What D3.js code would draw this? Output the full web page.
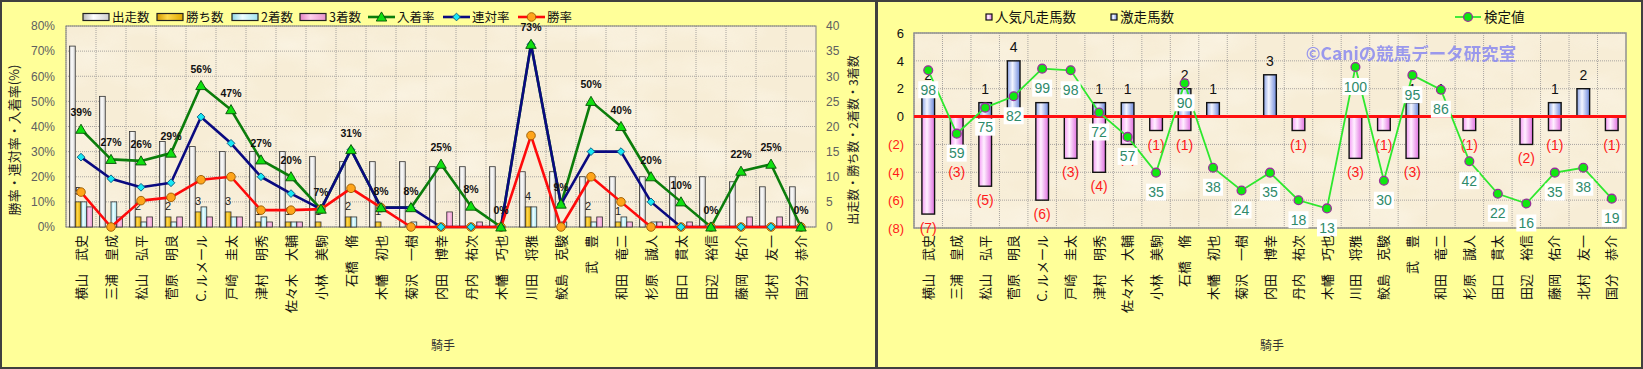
<!DOCTYPE html>
<html>
<head>
<meta charset="utf-8">
<script src="https://cdn.jsdelivr.net/npm/d3@7"></script>
<style>
  body { margin: 0; background: #fff; }
  svg text { font-family: "Noto Sans CJK JP", "Liberation Sans", sans-serif; }
  .num { font-family: "Liberation Sans", Arial, sans-serif; }
</style>
</head>
<body>
<svg id="chart" width="1643" height="369"></svg>
<script>
// jockeys (same order in both panels)
const jockeys = ["横山　武史", "三浦　皇成", "松山　弘平", "菅原　明良", "C. ルメール", "戸崎　圭太",
  "津村　明秀", "佐々木　大輔", "小林　美駒", "石橋　脩", "木幡　初也", "菊沢　一樹", "内田　博幸",
  "丹内　祐次", "木幡　巧也", "川田　将雅", "鮫島　克駿", "武　豊", "和田　竜二", "杉原　誠人",
  "田口　貫太", "田辺　裕信", "藤岡　佑介", "北村　友一", "国分　恭介"];

// left panel: counts
const starts  = [36, 26, 19, 17, 16, 15, 15, 15, 14, 13, 13, 13, 12, 12, 12, 11, 11, 10, 10, 10, 10, 10, 9, 8, 8];
const wins    = [5, 0, 2, 2, 3, 3, 1, 1, 1, 2, 1, 0, 0, 0, 0, 4, 0, 2, 1, 0, 0, 0, 0, 0, 0];
const seconds = [5, 5, 1, 1, 4, 2, 2, 1, 0, 2, 0, 1, 0, 0, 0, 4, 1, 1, 2, 1, 0, 0, 0, 0, 0];
const thirds  = [4, 2, 2, 2, 2, 2, 1, 1, 0, 0, 0, 0, 3, 1, 0, 0, 0, 2, 1, 1, 1, 0, 2, 2, 0];

// left panel: rates (%)
const placeRate   = [38.9, 26.9, 26.3, 29.4, 56.3, 46.7, 26.7, 20.0, 7.1, 30.8, 7.7, 7.7, 25.0, 8.3, 0, 72.7, 9.1, 50.0, 40.0, 20.0, 10.0, 0, 22.2, 25.0, 0];
const rentaiRate  = [27.8, 19.2, 15.8, 17.6, 43.8, 33.3, 20.0, 13.3, 7.1, 30.8, 7.7, 7.7, 0, 0, 0, 72.7, 9.1, 30.0, 30.0, 10.0, 0, 0, 0, 0, 0];
const winRate     = [13.9, 0, 10.5, 11.8, 18.8, 20.0, 6.7, 6.7, 7.1, 15.4, 7.7, 0, 0, 0, 0, 36.4, 0, 20.0, 10.0, 0, 0, 0, 0, 0, 0];

// right panel
const flopCount  = [7, 3, 5, 0, 6, 3, 4, 2, 1, 1, 0, 0, 0, 1, 0, 3, 1, 3, 0, 1, 0, 2, 1, 0, 1];
const surgeCount = [2, 0, 1, 4, 1, 0, 1, 1, 0, 2, 1, 0, 3, 0, 0, 0, 0, 1, 1, 0, 0, 0, 1, 2, 0];
const scores     = [98, 59, 75, 82, 99, 98, 72, 57, 35, 90, 38, 24, 35, 18, 13, 100, 30, 95, 86, 42, 22, 16, 35, 38, 19];

const pctTicks = [0, 10, 20, 30, 40, 50, 60, 70, 80];
const cntTicks = [0, 5, 10, 15, 20, 25, 30, 35, 40];
const diffTicks = [-8, -6, -4, -2, 0, 2, 4, 6];

const svg = d3.select("#chart");
const defs = svg.append("defs");

// paper texture of the plot areas
const tex = defs.append("filter").attr("id", "paper")
    .attr("x", 0).attr("y", 0).attr("width", "100%").attr("height", "100%");
tex.append("feTurbulence").attr("type", "fractalNoise")
    .attr("baseFrequency", "0.012 0.025").attr("numOctaves", 3).attr("seed", 7);
tex.append("feColorMatrix").attr("type", "matrix")
    .attr("values", "0 0 0 0 1  0 0 0 0 0.98  0 0 0 0 0.92  1.4 0 0 0 -0.55");

function grad(id, a, b, c) {
    let g = defs.append("linearGradient").attr("id", id)
        .attr("x1", 0).attr("x2", 1).attr("y1", 0).attr("y2", 0);
    g.append("stop").attr("offset", "0%").attr("stop-color", a);
    g.append("stop").attr("offset", "40%").attr("stop-color", b);
    g.append("stop").attr("offset", "100%").attr("stop-color", c);
}
grad("gStarts", "#b8b8b8", "#ffffff", "#d0d0d0");
grad("gWins", "#d49a00", "#ffd84a", "#e0a800");
grad("gSec", "#8fd8e8", "#effeff", "#a0e4f0");
grad("gThird", "#e584c4", "#ffd0ec", "#e894cc");
grad("gFlop", "#f49af4", "#fff0ff", "#e070e0");
grad("gSurge", "#8aa2e6", "#f4f6ff", "#6c88dc");

// panels
svg.append("rect").attr("x", 1).attr("y", 1).attr("width", 875).attr("height", 367)
    .attr("fill", "#ffff99").attr("stroke", "#404040").attr("stroke-width", 2);
svg.append("rect").attr("x", 877).attr("y", 1).attr("width", 765).attr("height", 367)
    .attr("fill", "#ffff99").attr("stroke", "#404040").attr("stroke-width", 2);

function plotBack(g, x, y, w, h) {
    g.append("rect").attr("x", x).attr("y", y).attr("width", w).attr("height", h).attr("fill", "#f7edd6");
    g.append("rect").attr("x", x).attr("y", y).attr("width", w).attr("height", h)
        .attr("filter", "url(#paper)").attr("opacity", 0.6);
}

function grid(g, xs, ys, box) {
    g.selectAll(null).data(ys).enter().append("line")
        .attr("x1", box.left).attr("x2", box.right).attr("y1", d => d).attr("y2", d => d)
        .attr("stroke", "#a8a4a0").attr("stroke-dasharray", "1,1");
    g.selectAll(null).data(xs).enter().append("line")
        .attr("y1", box.top).attr("y2", box.bottom).attr("x1", d => d).attr("x2", d => d)
        .attr("stroke", "#a8a4a0").attr("stroke-dasharray", "1,1");
}

function xLabels(g, x, yTop) {
    g.selectAll(null).data(jockeys).enter().append("text")
        .attr("transform", d => `translate(${x(d) + x.bandwidth() / 2},${yTop}) rotate(-90)`)
        .attr("text-anchor", "end").attr("dy", "0.35em")
        .attr("font-size", 13).attr("fill", "#111")
        .text(d => d);
}

// ---------------- left panel ----------------
const L = { left: 66, right: 816, top: 26, bottom: 227 };
const left = svg.append("g");
plotBack(left, L.left, L.top, L.right - L.left, L.bottom - L.top);

const x0 = d3.scaleBand().domain(jockeys).range([L.left, L.right]);
const keys = ["starts", "wins", "seconds", "thirds"];
const x1 = d3.scaleBand().domain(keys).range([0, x0.bandwidth()]).paddingOuter(0.61);
const yPct = d3.scaleLinear().domain([0, 80]).range([L.bottom, L.top]);
const yCnt = d3.scaleLinear().domain([0, 40]).range([L.bottom, L.top]);

grid(left, jockeys.map(d => x0(d)), pctTicks.map(yPct), L);
left.append("rect").attr("x", L.left).attr("y", L.top).attr("width", L.right - L.left)
    .attr("height", L.bottom - L.top).attr("fill", "none").attr("stroke", "#808080");

let barData = [];
jockeys.forEach((j, i) => {
    barData.push({ j: j, k: "starts", v: starts[i], fill: "url(#gStarts)" });
    barData.push({ j: j, k: "wins", v: wins[i], fill: "url(#gWins)" });
    barData.push({ j: j, k: "seconds", v: seconds[i], fill: "url(#gSec)" });
    barData.push({ j: j, k: "thirds", v: thirds[i], fill: "url(#gThird)" });
});
left.append("g").selectAll("rect").data(barData.filter(d => d.v > 0)).enter().append("rect")
    .attr("x", d => x0(d.j) + x1(d.k))
    .attr("y", d => yCnt(d.v))
    .attr("width", x1.bandwidth())
    .attr("height", d => yCnt(0) - yCnt(d.v))
    .attr("fill", d => d.fill)
    .attr("stroke", "#333").attr("stroke-width", 0.8);

// win count labels
left.append("g").selectAll("text").data(jockeys.filter((j, i) => wins[i] > 0)).enter().append("text")
    .attr("class", "num")
    .attr("x", d => x0(d) + x1("wins") + x1.bandwidth() / 2)
    .attr("y", d => yCnt(wins[jockeys.indexOf(d)]) - 7)
    .attr("text-anchor", "middle").attr("font-size", 11).attr("fill", "#222")
    .text(d => wins[jockeys.indexOf(d)]);

const cx = d => x0(d) + x0.bandwidth() / 2;
const lineSeries = [
    { name: "入着率", vals: placeRate, color: "#0b7d0b", mark: "tri", fill: "#10e010", stroke: "#075007" },
    { name: "連対率", vals: rentaiRate, color: "#0a0a80", mark: "dia", fill: "#18e8f4", stroke: "#0a5a80" },
    { name: "勝率", vals: winRate, color: "#ff0a0a", mark: "circ", fill: "#ffa51a", stroke: "#9a5a00" }
];

function marker(sel, type, fill, stroke) {
    if (type === "circ") {
        sel.append("circle").attr("r", 4.3).attr("fill", fill).attr("stroke", stroke).attr("stroke-width", 0.9);
    } else if (type === "tri") {
        sel.append("path").attr("d", d3.symbol(d3.symbolTriangle, 48)()).attr("transform", "translate(0,1)")
            .attr("fill", fill).attr("stroke", stroke).attr("stroke-width", 0.9);
    } else {
        sel.append("path").attr("d", d3.symbol(d3.symbolSquare, 30)()).attr("transform", "rotate(45)")
            .attr("fill", fill).attr("stroke", stroke).attr("stroke-width", 0.9);
    }
}

// draw the lines bottom to top: place, rentai, win
lineSeries.forEach(s => {
    left.append("path").datum(jockeys)
        .attr("fill", "none").attr("stroke", s.color).attr("stroke-width", 2.6)
        .attr("stroke-linejoin", "round")
        .attr("d", d3.line().x(d => cx(d)).y((d, i) => yPct(s.vals[i])));
});
lineSeries.slice().reverse().forEach(s => {
    left.append("g").selectAll("g").data(jockeys).enter().append("g")
        .attr("transform", (d, i) => `translate(${cx(d)},${yPct(s.vals[i])})`)
        .each(function () { marker(d3.select(this), s.mark, s.fill, s.stroke); });
});

left.append("g").selectAll("text").data(jockeys).enter().append("text")
    .attr("class", "num")
    .attr("x", d => cx(d))
    .attr("y", (d, i) => yPct(placeRate[i]) - 13)
    .attr("text-anchor", "middle").attr("font-size", 10.5).attr("font-weight", "bold").attr("fill", "#111")
    .text((d, i) => Math.round(placeRate[i]) + "%");

// axes
const axL = left.append("g").attr("transform", `translate(${L.left},0)`)
    .call(d3.axisLeft(yPct).tickValues(pctTicks).tickFormat(d => d + "%").tickSize(0).tickPadding(11));
const axR = left.append("g").attr("transform", `translate(${L.right},0)`)
    .call(d3.axisRight(yCnt).tickValues(cntTicks).tickSize(0).tickPadding(10));
[axL, axR].forEach(a => {
    a.select(".domain").remove();
    a.selectAll("text").attr("class", "num").attr("font-size", 12).attr("fill", "#606060");
});

xLabels(left, x0, 235);

left.append("text").attr("transform", "translate(14,140) rotate(-90)")
    .attr("text-anchor", "middle").attr("dy", "0.35em").attr("font-size", 13).attr("fill", "#222")
    .text("勝率・連対率・入着率(%)");
left.append("text").attr("transform", "translate(854,140) rotate(-90)")
    .attr("text-anchor", "middle").attr("dy", "0.35em").attr("font-size", 12).attr("fill", "#222")
    .text("出走数・勝ち数・2着数・3着数");
left.append("text").attr("x", 443).attr("y", 346).attr("text-anchor", "middle")
    .attr("dy", "0.35em").attr("font-size", 12).attr("fill", "#333").text("騎手");

// left legend
const legY = 17;
const legBars = [
    { x: 83, label: "出走数", fill: "url(#gStarts)" },
    { x: 157, label: "勝ち数", fill: "url(#gWins)" },
    { x: 232, label: "2着数", fill: "url(#gSec)" },
    { x: 300, label: "3着数", fill: "url(#gThird)" }
];
const lg = left.append("g");
legBars.forEach(b => {
    lg.append("rect").attr("x", b.x).attr("y", legY - 3.5).attr("width", 26).attr("height", 7)
        .attr("fill", b.fill).attr("stroke", "#222").attr("stroke-width", 1.2);
    lg.append("text").attr("x", b.x + 29).attr("y", legY).attr("dy", "0.36em")
        .attr("font-size", 12.5).attr("fill", "#111").text(b.label);
});
const legLinesX = [368, 443, 518];
lineSeries.forEach((s, i) => {
    let x = legLinesX[i];
    lg.append("line").attr("x1", x).attr("x2", x + 27).attr("y1", legY).attr("y2", legY)
        .attr("stroke", s.color).attr("stroke-width", 2.6);
    marker(lg.append("g").attr("transform", `translate(${x + 13.5},${legY})`), s.mark, s.fill, s.stroke);
    lg.append("text").attr("x", x + 29).attr("y", legY).attr("dy", "0.36em")
        .attr("font-size", 12.5).attr("fill", "#111").text(s.name);
});

// ---------------- right panel ----------------
const R = { left: 914, right: 1626, top: 33, bottom: 228 };
const right = svg.append("g");
plotBack(right, R.left, R.top, R.right - R.left, R.bottom - R.top);

const xr = d3.scaleBand().domain(jockeys).range([R.left, R.right]).paddingInner(0.555).paddingOuter(0.2775);
const xrStep = xr.step();
const yr = d3.scaleLinear().domain([-8, 6]).range([R.bottom, R.top]);
const yScore = d3.scaleLinear().domain([0, 120]).range([R.bottom + 1.5, R.top + 1.5]);
const rcx = d => xr(d) + xr.bandwidth() / 2;

grid(right, jockeys.map(d => rcx(d) - xrStep / 2), diffTicks.map(yr), R);
right.append("rect").attr("x", R.left).attr("y", R.top).attr("width", R.right - R.left)
    .attr("height", R.bottom - R.top).attr("fill", "none").attr("stroke", "#909090").attr("stroke-width", 1.5);

right.append("g").selectAll("rect").data(jockeys.filter((d, i) => flopCount[i] > 0)).enter().append("rect")
    .attr("x", d => xr(d)).attr("width", xr.bandwidth())
    .attr("y", yr(0))
    .attr("height", d => yr(-flopCount[jockeys.indexOf(d)]) - yr(0))
    .attr("fill", "url(#gFlop)").attr("stroke", "#111").attr("stroke-width", 1.4);
right.append("g").selectAll("rect").data(jockeys.filter((d, i) => surgeCount[i] > 0)).enter().append("rect")
    .attr("x", d => xr(d)).attr("width", xr.bandwidth())
    .attr("y", d => yr(surgeCount[jockeys.indexOf(d)]))
    .attr("height", d => yr(0) - yr(surgeCount[jockeys.indexOf(d)]))
    .attr("fill", "url(#gSurge)").attr("stroke", "#111").attr("stroke-width", 1.4);

right.append("line").attr("x1", R.left).attr("x2", R.right).attr("y1", yr(0)).attr("y2", yr(0))
    .attr("stroke", "#ff1010").attr("stroke-width", 3);

right.append("g").selectAll("text").data(jockeys.filter((d, i) => surgeCount[i] > 0)).enter().append("text")
    .attr("class", "num").attr("x", d => rcx(d))
    .attr("y", d => yr(surgeCount[jockeys.indexOf(d)]) - 14).attr("dy", "0.36em")
    .attr("text-anchor", "middle").attr("font-size", 14).attr("fill", "#111")
    .text(d => surgeCount[jockeys.indexOf(d)]);
right.append("g").selectAll("text").data(jockeys.filter((d, i) => flopCount[i] > 0)).enter().append("text")
    .attr("class", "num").attr("x", d => rcx(d))
    .attr("y", d => yr(-flopCount[jockeys.indexOf(d)]) + 14).attr("dy", "0.36em")
    .attr("text-anchor", "middle").attr("font-size", 14).attr("fill", "#ff1a1a")
    .text(d => "(" + flopCount[jockeys.indexOf(d)] + ")");

right.append("text").attr("x", 1411).attr("y", 54).attr("dy", "0.36em").attr("text-anchor", "middle")
    .attr("font-size", 17.5).attr("font-weight", "bold").attr("fill", "#8a8af0").attr("opacity", 0.85)
    .text("©Caniの競馬データ研究室");

right.append("path").datum(jockeys)
    .attr("fill", "none").attr("stroke", "#2ee82e").attr("stroke-width", 1.8)
    .attr("d", d3.line().x(d => rcx(d)).y((d, i) => yScore(scores[i])));

const lbl = right.append("g").selectAll("g").data(jockeys).enter().append("g")
    .attr("transform", (d, i) => `translate(${rcx(d)},${yScore(scores[i]) + 19.5})`);
lbl.append("rect")
    .attr("x", (d, i) => scores[i] >= 100 ? -13 : -10).attr("y", -8.5)
    .attr("width", (d, i) => scores[i] >= 100 ? 26 : 20).attr("height", 17).attr("fill", "#fff");
lbl.append("text").attr("class", "num").attr("text-anchor", "middle").attr("dy", "0.36em")
    .attr("font-size", 14).attr("fill", "#2e8a6a").text((d, i) => scores[i]);

right.append("g").selectAll("circle").data(jockeys).enter().append("circle")
    .attr("cx", d => rcx(d)).attr("cy", (d, i) => yScore(scores[i])).attr("r", 4.4)
    .attr("fill", "#10e810").attr("stroke", "#98309a").attr("stroke-width", 1.3);

const ayr = right.append("g").attr("transform", `translate(${R.left},0)`)
    .call(d3.axisLeft(yr).tickValues(diffTicks).tickSize(0).tickPadding(10)
        .tickFormat(d => d < 0 ? "(" + (-d) + ")" : d));
ayr.select(".domain").remove();
ayr.selectAll("text").attr("class", "num").attr("font-size", 13)
    .attr("fill", d => d < 0 ? "#ff1a1a" : "#111");

xLabels(right, xr, 235);
right.append("text").attr("x", 1272).attr("y", 346).attr("text-anchor", "middle")
    .attr("dy", "0.35em").attr("font-size", 12).attr("fill", "#333").text("騎手");

// right legend
const rl = right.append("g");
rl.append("rect").attr("x", 986).attr("y", legY - 3).attr("width", 6).attr("height", 6)
    .attr("fill", "url(#gFlop)").attr("stroke", "#111").attr("stroke-width", 1.2);
rl.append("text").attr("x", 995).attr("y", legY).attr("dy", "0.36em").attr("font-size", 13.5)
    .attr("fill", "#111").text("人気凡走馬数");
rl.append("rect").attr("x", 1111).attr("y", legY - 3).attr("width", 6).attr("height", 6)
    .attr("fill", "url(#gSurge)").attr("stroke", "#111").attr("stroke-width", 1.2);
rl.append("text").attr("x", 1120).attr("y", legY).attr("dy", "0.36em").attr("font-size", 13.5)
    .attr("fill", "#111").text("激走馬数");
rl.append("line").attr("x1", 1455).attr("x2", 1481).attr("y1", legY).attr("y2", legY)
    .attr("stroke", "#2ee82e").attr("stroke-width", 1.8);
rl.append("circle").attr("cx", 1468).attr("cy", legY).attr("r", 4.4)
    .attr("fill", "#10e810").attr("stroke", "#98309a").attr("stroke-width", 1.3);
rl.append("text").attr("x", 1484).attr("y", legY).attr("dy", "0.36em").attr("font-size", 13.5)
    .attr("fill", "#111").text("検定値");
</script>
</body>
</html>
